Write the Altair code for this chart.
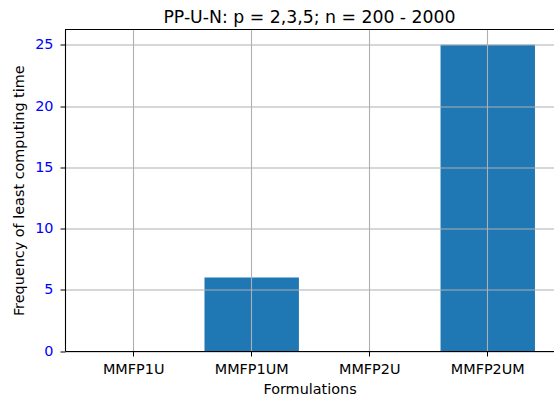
import altair as alt
import pandas as pd

formulations = ["MMFP1U", "MMFP1UM", "MMFP2U", "MMFP2UM"]
frequency = [0, 6, 0, 25]
y_ticks = [0, 5, 10, 15, 20, 25]

df = pd.DataFrame({"Formulation": formulations, "Frequency": frequency})

FONT = "DejaVu Sans"

x_enc = alt.X(
    "Formulation:N",
    sort=formulations,
    title="Formulations",
    scale=alt.Scale(paddingInner=0.2, paddingOuter=0.1716, align=0.53),
    axis=alt.Axis(
        labelAngle=0,
        labelFontSize=14.4,
        labelColor="#000000",
        labelPadding=6,
        titleFontSize=14.4,
        titleColor="#000000",
        titleFontWeight="normal",
        titlePadding=7,
        tickSize=5,
        tickColor="#000000",
        domainColor="#000000",
        domainWidth=1.1,
        grid=True,
        gridColor="#b0b0b0",
        gridWidth=1.1,
        zindex=1,
    ),
)

y_enc = alt.Y(
    "Frequency:Q",
    title="Frequency of least computing time",
    scale=alt.Scale(domain=[0, 26.25], nice=False, zero=True),
    axis=alt.Axis(
        values=y_ticks,
        labelFontSize=14.4,
        labelColor="#0000ff",
        labelPadding=7,
        titleFontSize=14.4,
        titleColor="#000000",
        titleFontWeight="normal",
        titlePadding=8,
        tickSize=5,
        tickColor="#000000",
        domainColor="#000000",
        domainWidth=1.1,
        grid=True,
        gridColor="#b0b0b0",
        gridWidth=1.1,
        zindex=1,
    ),
)

bars = alt.Chart(df).mark_bar(color="#1f77b4").encode(x=x_enc, y=y_enc)

# top spine of the axes box
top_spine = alt.Chart(df).mark_rule(color="#000000", strokeWidth=1.1).encode(
    x=alt.value(0), x2=alt.value(489), y=alt.value(0)
)

chart = (
    alt.layer(bars, top_spine)
    .properties(
        width=489,
        height=321.5,
        title=alt.TitleParams(
            "PP-U-N: p = 2,3,5; n = 200 - 2000",
            fontSize=17.3,
            fontWeight="normal",
            color="#000000",
            font=FONT,
            anchor="middle",
            baseline="alphabetic",
            offset=7,
            dy=18,
        ),
        padding={"left": 65, "top": 29.5, "right": 0, "bottom": 53},
        autosize=alt.AutoSizeParams(type="none"),
    )
    .configure(font=FONT, background="#ffffff")
    .configure_view(stroke=None)
    .configure_axis(labelFont=FONT, titleFont=FONT)
)

chart.save("out.html", embed_options={"renderer": "svg", "actions": False})
